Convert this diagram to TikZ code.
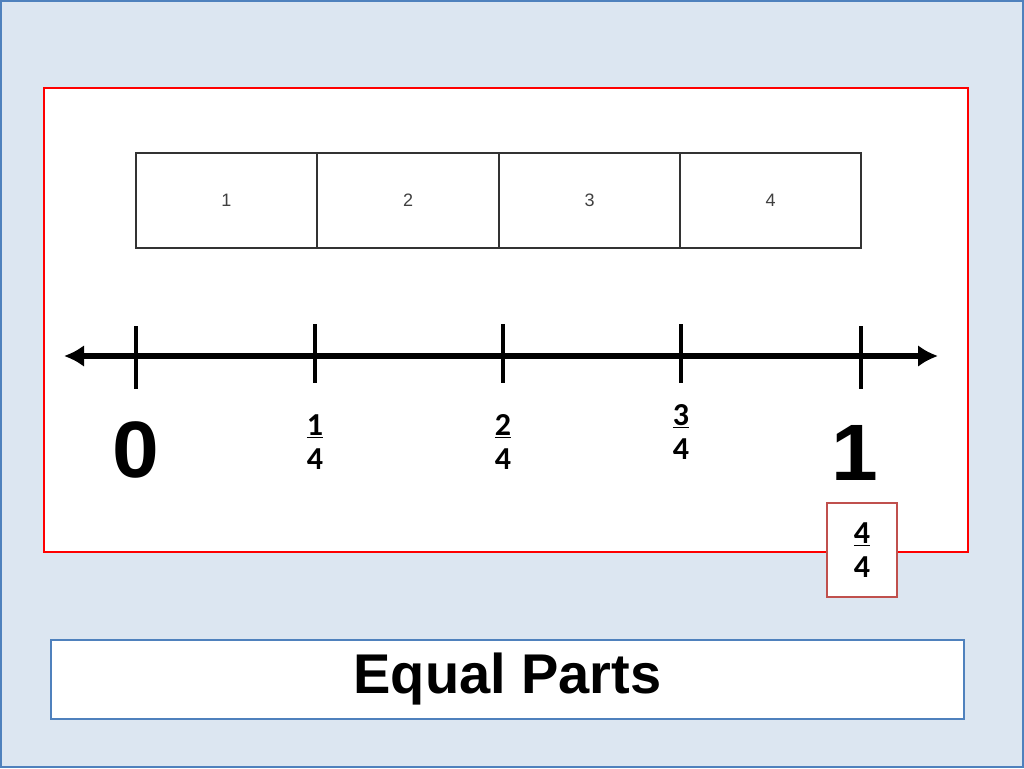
\documentclass[tikz,border=0pt]{standalone}
\usepackage{fontspec}
\usetikzlibrary{arrows.meta}
\setmainfont{Liberation Sans}
\newfontfamily\carlitofont{Carlito}
\definecolor{bgc}{HTML}{DCE6F1}
\definecolor{bluec}{HTML}{4F81BD}
\definecolor{redc}{HTML}{C0504D}
\begin{document}
\begin{tikzpicture}[x=1pt,y=-1pt,
  cell/.style={draw=black!80,line width=1.2pt,minimum width=181pt,minimum height=95pt,inner sep=0pt,text=black!75,font=\fontsize{18}{20}\selectfont},
  tick/.style={line width=4.5pt},
  frac/.style={font=\carlitofont\bfseries\fontsize{32}{34}\selectfont,align=center,inner sep=0pt},
  big/.style={font=\bfseries\fontsize{80}{80}\selectfont,inner sep=0pt}]
\useasboundingbox (0,0) rectangle (1024,768);
\fill[bgc,draw=bluec,line width=1.5pt] (1,1) rectangle (1023,767);
\draw[red,line width=2pt,fill=white] (44,88) rectangle (968,552);
\node[cell] (c1) at (226.5,200.5) {1};
\node[cell] (c2) at (408,200.5) {2};
\node[cell] (c3) at (589.5,200.5) {3};
\node[cell] (c4) at (770.5,200.5) {4};
\coordinate (L) at (64,356);
\coordinate (R) at (938,356);
\draw[line width=6pt,-{Latex[length=20pt,width=22pt]}] (136,356) -- (R);
\draw[line width=6pt,-{Latex[length=20pt,width=22pt]}] (136,356) -- (L);
\draw[tick] (136,326) -- (136,389);
\draw[tick] (315,324) -- (315,383);
\draw[tick] (503,324) -- (503,383);
\draw[tick] (681,324) -- (681,383);
\draw[tick] (861,326) -- (861,389);
\node[big,xscale=1.05] (z) at (136,450) {0};
\node[big,xscale=1.05] (o) at (855,453) {1};
\node[frac] (f1) at (315,442) {\underline{1}\\4};
\node[frac] (f2) at (503,442) {\underline{2}\\4};
\node[frac] (f3) at (681,432) {\underline{3}\\4};
\draw[redc,line width=1.5pt,fill=white] (827,503) rectangle (897,597);
\node[frac] (f4) at (862,550) {\underline{4}\\4};
\node[draw=bluec,line width=1.5pt,fill=white,minimum width=913pt,minimum height=79pt,inner sep=0pt,font=\bfseries\fontsize{56}{60}\selectfont] (t) at (507.5,679.5) {Equal Parts};
\end{tikzpicture}
\end{document}
